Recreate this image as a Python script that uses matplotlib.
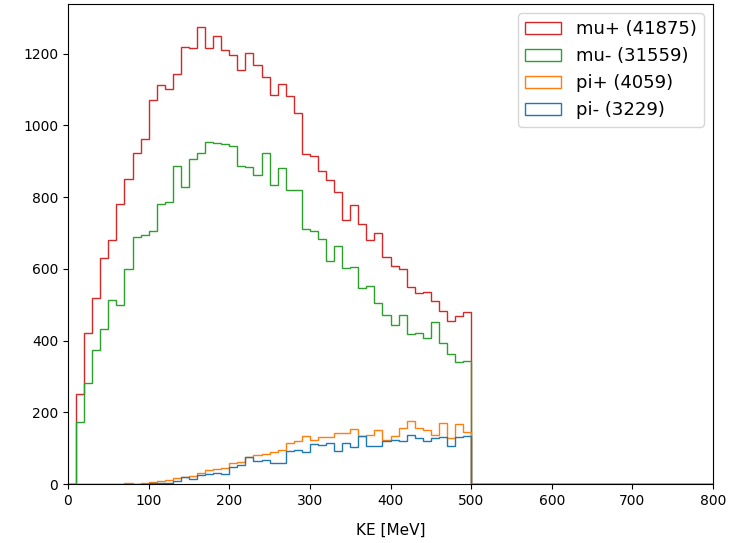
import numpy as np
import matplotlib
matplotlib.use('Agg')
import matplotlib.pyplot as plt

# bin edges: 0-800 MeV, 10 MeV wide
edges = np.arange(0, 810, 10)

# counts per bin (first value is the 10-20 MeV bin)
mu_plus = [252, 421, 518, 630, 681, 782, 851, 922, 963, 1071,
           1112, 1101, 1144, 1218, 1215, 1275, 1217, 1250, 1210, 1196,
           1156, 1201, 1168, 1136, 1085, 1115, 1083, 1036, 920, 916,
           874, 848, 814, 735, 779, 726, 681, 699, 633, 608,
           601, 550, 532, 536, 511, 483, 456, 468, 481]
mu_minus = [173, 282, 375, 431, 514, 499, 599, 690, 694, 707,
            780, 786, 888, 829, 906, 923, 953, 952, 948, 944,
            888, 883, 863, 923, 835, 880, 819, 821, 712, 707,
            684, 622, 665, 603, 604, 548, 553, 506, 471, 444,
            472, 417, 422, 407, 451, 394, 363, 340, 343]
# pions start at 70 MeV
pi_plus = [3, 0, 3, 5, 7, 12, 16, 20, 21, 30,
           39, 42, 44, 58, 62, 76, 82, 85, 88, 94,
           113, 119, 135, 124, 130, 131, 143, 141, 154, 135,
           137, 150, 122, 133, 155, 176, 155, 150, 136, 170,
           127, 167, 144]
pi_minus = [0, 0, 1, 3, 3, 4, 9, 20, 14, 25,
            28, 31, 29, 48, 52, 76, 65, 66, 59, 58,
            93, 94, 88, 111, 108, 113, 93, 113, 102, 133,
            106, 106, 120, 122, 120, 136, 127, 120, 129, 130,
            106, 130, 133]

labels = ['mu+ (41875)', 'mu- (31559)', 'pi+ (4059)', 'pi- (3229)']
colors = ['tab:red', 'tab:green', 'tab:orange', 'tab:blue']


def full_counts(vals, first_bin):
    # pad to the 80 bins of the histogram
    c = np.zeros(len(edges) - 1)
    c[first_bin:first_bin + len(vals)] = vals
    return c


counts = [full_counts(mu_plus, 1), full_counts(mu_minus, 1),
          full_counts(pi_plus, 7), full_counts(pi_minus, 7)]
centers = (edges[:-1] + edges[1:]) / 2

fig, ax = plt.subplots(figsize=(7.32, 5.43), dpi=100)
plt.subplots_adjust(left=68/732, right=713/732, top=1-4/543, bottom=1-484/543)

for c, lab, col in zip(counts, labels, colors):
    ax.hist(centers, bins=edges, weights=c, histtype='step', color=col, label=lab)

ax.set_xlim(0, 800)
ax.set_xlabel('KE [MeV]', fontsize=11, labelpad=11)
ax.legend(loc='upper right', fontsize=13)

plt.savefig('out.png', dpi=100)
